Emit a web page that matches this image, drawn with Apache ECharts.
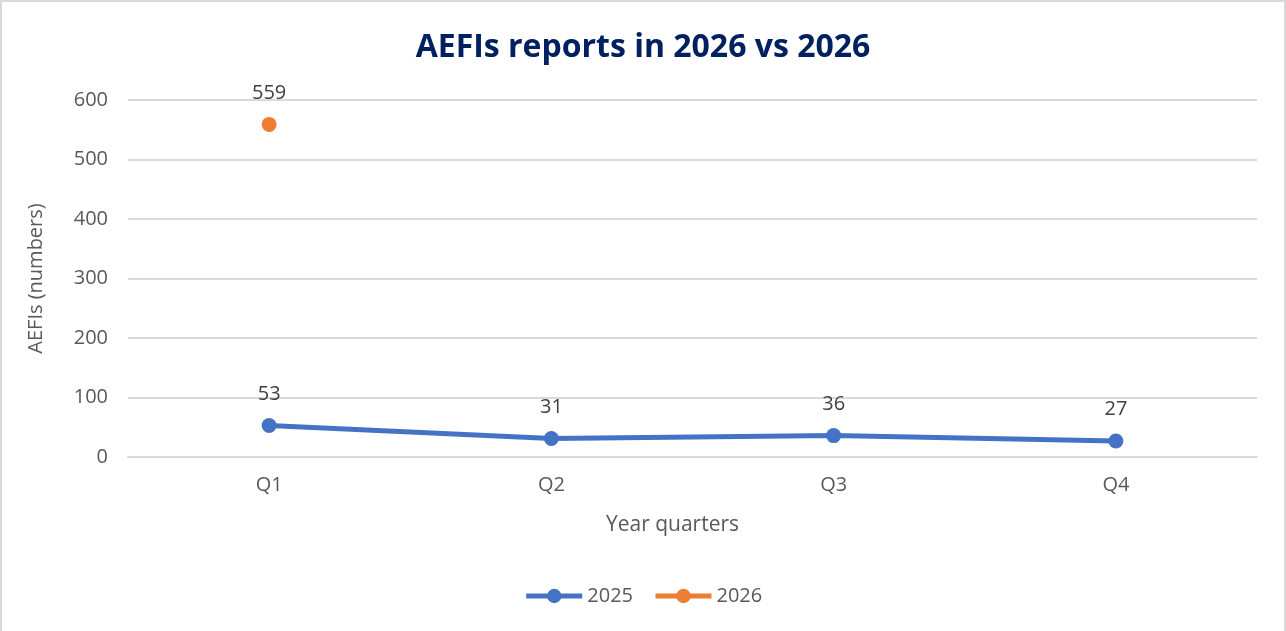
<!DOCTYPE html>
<html>
<head>
<meta charset="utf-8">
<script src="https://cdn.jsdelivr.net/npm/echarts@6/dist/echarts.min.js"></script>
<style>
html,body{margin:0;padding:0;background:#fff;}
#c{width:1286px;height:631px;box-sizing:border-box;border:2px solid #d9d9d9;border-bottom:none;}
</style>
</head>
<body>
<div id="c"></div>
<script>
const categories = ['Q1','Q2','Q3','Q4'];
const series2025 = [53, 31, 36, 27];
const series2026 = [559, null, null, null];
const yTicks = [0, 100, 200, 300, 400, 500, 600];

const FONT = 'Open Sans';
const chart = echarts.init(document.getElementById('c'));
chart.setOption({
  animation: false,
  textStyle: {fontFamily: FONT},
  title: {
    text: 'AEFIs reports in 2026 vs 2026',
    left: 'center', top: 25,
    textStyle: {fontFamily: FONT, fontWeight: 'bold', fontSize: 32, color: '#002060'}
  },
  grid: {left: 126, right: 27, top: 98, bottom: 174, containLabel: false},
  legend: {
    bottom: 20, left: 'center',
    itemWidth: 56, itemHeight: 18, itemGap: 20,
    lineStyle: {width: 5},
    textStyle: {fontFamily: FONT, fontSize: 20, color: '#595959', padding: [0, 0, 0, 0]},
    data: ['2025', '2026']
  },
  xAxis: {
    type: 'category', data: categories, boundaryGap: true,
    name: 'Year quarters', nameLocation: 'middle', nameGap: 58,
    nameTextStyle: {fontFamily: FONT, fontSize: 21, color: '#595959', padding: [0, 40, 0, 0]},
    axisLine: {show: true, lineStyle: {color: '#d9d9d9', width: 2}},
    axisTick: {show: false},
    axisLabel: {fontFamily: FONT, fontSize: 20, color: '#595959', margin: 18}
  },
  yAxis: {
    type: 'value', min: yTicks[0], max: yTicks[yTicks.length-1], interval: 100,
    name: 'AEFIs (numbers)', nameLocation: 'middle', nameGap: 82, nameRotate: 90,
    nameTextStyle: {fontFamily: FONT, fontSize: 20, color: '#595959'},
    axisLine: {show: false}, axisTick: {show: false},
    axisLabel: {fontFamily: FONT, fontSize: 20, color: '#595959', margin: 20},
    splitLine: {lineStyle: {color: '#d9d9d9', width: 2}}
  },
  series: [
    {
      name: '2025', type: 'line', data: series2025,
      symbol: 'circle', symbolSize: 15,
      lineStyle: {color: '#4472C4', width: 5},
      itemStyle: {color: '#4472C4'},
      label: {show: true, position: 'top', distance: 14, fontFamily: FONT, fontSize: 20, color: '#404040'}
    },
    {
      name: '2026', type: 'line', data: series2026,
      symbol: 'circle', symbolSize: 15,
      lineStyle: {color: '#ED7D31', width: 5},
      itemStyle: {color: '#ED7D31'},
      label: {show: true, position: 'top', distance: 14, fontFamily: FONT, fontSize: 20, color: '#404040'}
    }
  ]
});
</script>
</body>
</html>
